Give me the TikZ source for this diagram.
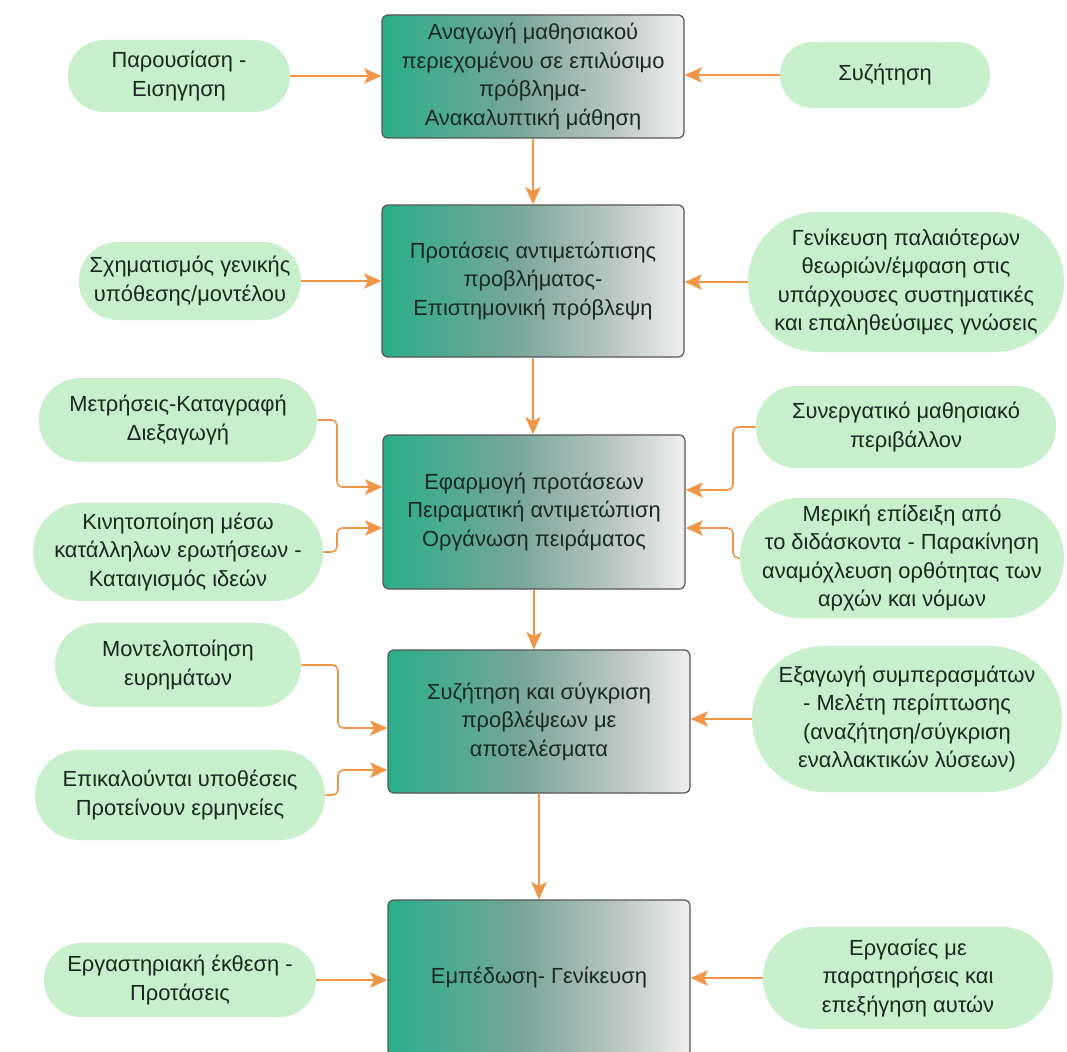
\documentclass[tikz,border=0pt]{standalone}
\usepackage{fontspec}
\setmainfont{Liberation Sans}
\usetikzlibrary{arrows.meta}

\definecolor{bxA}{RGB}{40,174,136}
\definecolor{bxB}{RGB}{120,166,154}
\definecolor{bxC}{RGB}{186,198,194}
\definecolor{bxD}{RGB}{240,240,240}
\definecolor{bxEdge}{RGB}{85,85,85}
\definecolor{pillFill}{RGB}{200,240,204}
\definecolor{inkText}{RGB}{24,40,32}
\definecolor{linkOrange}{RGB}{240,150,72}

% teal-to-white fill of the step boxes
\pgfdeclarehorizontalshading{stageshade}{100bp}{%
  color(0bp)=(bxA); color(25bp)=(bxA); color(47bp)=(bxB);
  color(63bp)=(bxC); color(75bp)=(bxD); color(100bp)=(bxD)}

\tikzset{
  stage/.style={rectangle, rounded corners=4.5pt, draw=bxEdge, line width=0.9pt,
    shading=stageshade, shade, minimum width=302*0.75pt, minimum height=#1*0.75pt,
    inner sep=0pt, align=center, text=inkText,
    font=\fontsize{16.4}{21.3}\selectfont},
  % stadium-shaped activity bubble: width and height in pixels
  pill/.style 2 args={rectangle, rounded corners={(#2/2-0.5)*0.75pt},
    fill=pillFill, draw=none,
    minimum width=#1*0.75pt, minimum height=#2*0.75pt, inner sep=0pt,
    align=center, text=inkText, font=\fontsize{16.4}{21.3}\selectfont},
  link/.style={draw=linkOrange, line width=1.2pt, rounded corners=4pt,
    -{Stealth[length=13pt,width=11.5pt,inset=3pt]}, color=linkOrange},
}

\begin{document}
\begin{tikzpicture}[x=0.75pt,y=-0.75pt]
\useasboundingbox[fill=white] (0,0) rectangle (1067,1052);

% main column of steps
\node[stage=123] (B1) at (533,76.5) {Αναγωγή μαθησιακού\\περιεχομένου σε επιλύσιμο\\πρόβλημα-\\Ανακαλυπτική μάθηση};
\node[stage=152] (B2) at (533,281) {Προτάσεις αντιμετώπισης\\προβλήματος-\\Επιστημονική πρόβλεψη};
\node[stage=154] (B3) at (534,512) {Εφαρμογή προτάσεων\\Πειραματική αντιμετώπιση\\Οργάνωση πειράματος};
\node[stage=143] (B4) at (539,721.5) {Συζήτηση και σύγκριση\\προβλέψεων με\\αποτελέσματα};
\node[stage=156] (B5) at (539,978) {Εμπέδωση- Γενίκευση};

% side activities
\node[pill={222}{72}] (L1) at (179,76) {Παρουσίαση -\\Εισηγηση};
\node[pill={210}{66}] (R1) at (885,75) {Συζήτηση};
\node[pill={222}{78}] (L2) at (190,281) {Σχηματισμός γενικής\\υπόθεσης/μοντέλου};
\node[pill={316}{140}] (R2) at (906,282) {Γενίκευση παλαιότερων\\θεωριών/έμφαση στις\\υπάρχουσες συστηματικές\\και επαληθεύσιμες γνώσεις};
\node[pill={278}{84}] (L3a) at (178,420) {Μετρήσεις-Καταγραφή\\Διεξαγωγή};
\node[pill={290}{98}] (L3b) at (178,552) {Κινητοποίηση μέσω\\κατάλληλων ερωτήσεων -\\Καταιγισμός ιδεών};
\node[pill={300}{82}] (R3a) at (906,427) {Συνεργατικό μαθησιακό\\περιβάλλον};
\node[pill={324}{120}] (R3b) at (902,558) {Μερική επίδειξη από\\το διδάσκοντα - Παρακίνηση\\αναμόχλευση ορθότητας των\\αρχών και νόμων};
\node[pill={246}{84}] (L4a) at (178,665) {Μοντελοποίηση\\ευρημάτων};
\node[pill={290}{90}] (L4b) at (180,795) {Επικαλούνται υποθέσεις\\Προτείνουν ερμηνείες};
\node[pill={310}{146}] (R4) at (907,719) {Εξαγωγή συμπερασμάτων\\- Μελέτη περίπτωσης\\(αναζήτηση/σύγκριση\\εναλλακτικών λύσεων)};
\node[pill={272}{74}] (L5) at (180,980) {Εργαστηριακή έκθεση -\\Προτάσεις};
\node[pill={290}{102}] (R5) at (908,978) {Εργασίες με\\παρατηρήσεις και\\επεξήγηση αυτών};

% elbow points
\coordinate (k3a) at (337,487);
\coordinate (k3b) at (337,528);
\coordinate (k3c) at (733,490);
\coordinate (k3d) at (733,528);
\coordinate (k4a) at (338,728);
\coordinate (k4b) at (338,770);

% flow between steps
\draw[link] (B1.south) -- (B1.south |- B2.north);
\draw[link] (B2.south) -- (B2.south |- B3.north);
\draw[link] (B3.south) -- (B3.south |- B4.north);
\draw[link] (B4.south) -- (B4.south |- B5.north);

% activities feeding the steps
\draw[link] (L1.east) -- (L1.east -| B1.west);
\draw[link] (R1.west) -- (R1.west -| B1.east);
\draw[link] (L2.east) -- (L2.east -| B2.west);
\draw[link] (R2.west) -- (R2.west -| B2.east);
\draw[link] (L3a.east) -| (k3a) -- (k3a -| B3.west);
\draw[link] (L3b.east) -| (k3b) -- (k3b -| B3.west);
\draw[link] (R3a.west) -| (k3c) -- (k3c -| B3.east);
\draw[link] (R3b.west) -| (k3d) -- (k3d -| B3.east);
\draw[link] (L4a.east) -| (k4a) -- (k4a -| B4.west);
\draw[link] (L4b.east) -| (k4b) -- (k4b -| B4.west);
\draw[link] (R4.west) -- (R4.west -| B4.east);
\draw[link] (L5.east) -- (L5.east -| B5.west);
\draw[link] (R5.west) -- (R5.west -| B5.east);
\end{tikzpicture}
\end{document}
